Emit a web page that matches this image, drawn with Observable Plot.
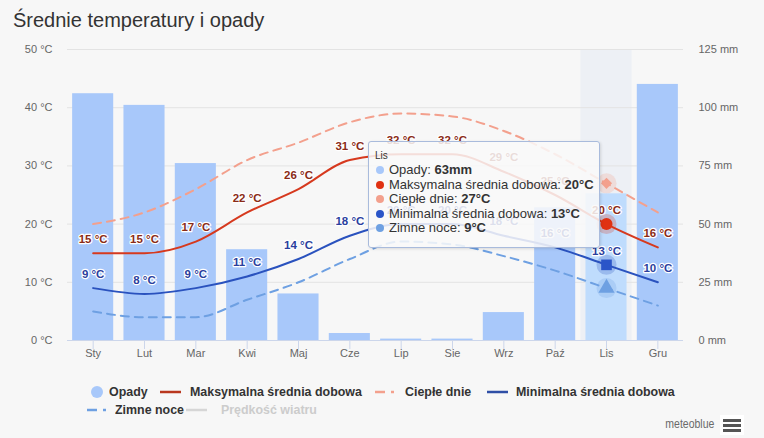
<!DOCTYPE html>
<html><head><meta charset="utf-8">
<script src="https://cdn.jsdelivr.net/npm/d3@7"></script>
<script src="https://cdn.jsdelivr.net/npm/@observablehq/plot@0.6"></script>
<style>
html,body{margin:0;padding:0;}
body{background:#f7f7f7;width:764px;height:438px;overflow:hidden;position:relative;font-family:"Liberation Sans",Arial,sans-serif;}
#title{position:absolute;left:13px;top:9px;font-size:20px;color:#333;white-space:nowrap;}
#chart{position:absolute;left:0;top:40px;}
#tooltip{position:absolute;left:368px;top:141px;width:232px;height:107px;box-sizing:border-box;background:rgba(249,249,249,0.86);border:1px solid #a9bbdc;border-radius:3px;box-shadow:1px 1px 3px rgba(0,0,0,0.12);font-size:13px;color:#333;padding:8px 0 0 6px;}
#tooltip .hd{font-size:10px;margin-bottom:2px;}
#tooltip .row{height:14.6px;line-height:14.6px;white-space:nowrap;}
#tooltip .bul{display:inline-block;width:8px;height:8px;border-radius:50%;margin:0 5px 0 1px;vertical-align:0px;}
.legsym{position:absolute;}
.legtxt{position:absolute;font-family:"Liberation Sans",Arial,sans-serif;font-weight:bold;font-size:13.5px;color:#333;white-space:nowrap;line-height:16px;transform:scaleX(0.92);transform-origin:0 50%;}
#brand{position:absolute;right:50px;top:417px;font-family:"Liberation Sans",Arial,sans-serif;font-size:12.5px;color:#6a6a6a;transform:scaleX(0.84);transform-origin:100% 50%;white-space:nowrap;}
#menu{position:absolute;left:720px;top:415px;width:24px;height:20px;background:#fff;}
#menu div{position:absolute;left:3px;width:18px;height:3px;background:#555;}
</style></head>
<body>
<div id="title">Średnie temperatury i opady</div>
<div id="chart"></div>
<div id="legend"></div>
<div id="brand">meteoblue</div>
<div id="menu"><div style="top:4px"></div><div style="top:9px"></div><div style="top:14px"></div></div>
<div id="tooltip"></div>
<script>
const months = ["Sty","Lut","Mar","Kwi","Maj","Cze","Lip","Sie","Wrz","Paź","Lis","Gru"];
const precip = [106,101,76,39,20,3,0.6,0.6,12,57,63,110];
const tMax = [15,15,17,22,26,31,32,32,29,25,20,16];
const warmDays = [20,22,26,31,34,37.5,39,38.5,36,32,27,22];
const tMin = [9,8,9,11,14,18,20,20,18,16,13,10];
const coldNights = [5,4,4,7,10,14,17,16.5,14.5,12,9,6];
const tempTicks = [0,10,20,30,40,50];
const precipTicks = [0,25,50,75,100,125];
const hoverMonth = "Lis";
const seriesNames = ["Opady","Maksymalna średnia dobowa","Ciepłe dnie","Minimalna średnia dobowa","Zimne noce","Prędkość wiatru"];

const C = {bar:"#a8c8fa", barHi:"#bfdcfd", max:"#d6391e", warm:"#f3a08d", min:"#2a52be", cold:"#6ea0e2", wind:"#cfcfcf", band:"#edf0f5"};
const ratio = precipTicks[precipTicks.length-1] / tempTicks[tempTicks.length-1];

const data = months.map((m,i)=>({month:m, precip:precip[i], tMax:tMax[i], warm:warmDays[i], tMin:tMin[i], cold:coldNights[i]}));
const hi = data.filter(d=>d.month===hoverMonth);

const labelOpts = {fontSize:11.5, fontWeight:"bold", stroke:"white", strokeWidth:2.5, dy:-14, fontFamily:"Liberation Sans, Arial, sans-serif"};

const plot = Plot.plot({
  width:764, height:340,
  marginLeft:67, marginRight:81, marginTop:9, marginBottom:40,
  style:{background:"transparent", color:"#666", fontFamily:"Liberation Sans, Arial, sans-serif", fontSize:"11px"},
  x:{domain:months, paddingInner:0.2, paddingOuter:0.1, round:false, label:null},
  y:{domain:[0,50], label:null},
  marks:[
    Plot.barY(hi, {x:"month", y1:0, y2:tempTicks[tempTicks.length-1], fill:C.band, insetLeft:-5, insetRight:-5}),
    Plot.ruleY(tempTicks.slice(1), {stroke:"#e3e3e3"}),
    Plot.barY(data, {x:"month", y:d=>d.precip/ratio, fill:d=>d.month===hoverMonth?C.barHi:C.bar}),
    Plot.ruleY([0], {stroke:"#ccd6eb"}),
    Plot.axisX({tickSize:9, tickPadding:0, stroke:"#ccd6eb", fill:"#666", fontSize:11}),
    Plot.axisY({anchor:"left", ticks:tempTicks, tickSize:0, tickPadding:15, tickFormat:d=>`${d} °C`, fill:"#666", fontSize:11}),
    Plot.axisY({anchor:"right", ticks:tempTicks, tickSize:0, tickPadding:15, tickFormat:d=>`${d*ratio} mm`, fill:"#666", fontSize:11}),
    Plot.line(data, {x:"month", y:"warm", curve:"monotone-x", stroke:C.warm, strokeWidth:2, strokeDasharray:"8,6"}),
    Plot.line(data, {x:"month", y:"cold", curve:"monotone-x", stroke:C.cold, strokeWidth:2, strokeDasharray:"8,6"}),
    Plot.line(data, {x:"month", y:"tMax", curve:"monotone-x", stroke:C.max, strokeWidth:2}),
    Plot.line(data, {x:"month", y:"tMin", curve:"monotone-x", stroke:C.min, strokeWidth:2}),
    Plot.text(data, {x:"month", y:"tMax", text:d=>`${d.tMax} °C`, fill:"#8a2b17", ...labelOpts}),
    Plot.text(data, {x:"month", y:"tMin", text:d=>`${d.tMin} °C`, fill:"#2b3f9e", ...labelOpts}),
    Plot.dot(hi, {x:"month", y:"warm", r:10, fill:C.warm, fillOpacity:0.25}),
    Plot.dot(hi, {x:"month", y:"tMax", r:10, fill:C.max, fillOpacity:0.25}),
    Plot.dot(hi, {x:"month", y:"tMin", r:10, fill:C.min, fillOpacity:0.25}),
    Plot.dot(hi, {x:"month", y:"cold", r:10, fill:C.cold, fillOpacity:0.25}),
    Plot.dot(hi, {x:"month", y:"warm", r:5, symbol:"diamond2", fill:C.warm}),
    Plot.dot(hi, {x:"month", y:"tMax", r:6, symbol:"circle", fill:"#e03112"}),
    Plot.dot(hi, {x:"month", y:"tMin", r:6, symbol:"square", fill:"#2a55c8"}),
    Plot.dot(hi, {x:"month", y:"cold", r:6, symbol:"triangle", fill:C.cold})
  ]
});
document.getElementById("chart").appendChild(plot);

// tooltip
const h = hi[0];
const tipRows = [
  [C.bar, seriesNames[0], `${h.precip}mm`],
  ["#e03112", seriesNames[1], `${h.tMax}°C`],
  [C.warm, seriesNames[2], `${h.warm}°C`],
  ["#2a55c8", seriesNames[3], `${h.tMin}°C`],
  [C.cold, seriesNames[4], `${h.cold}°C`]
];
document.getElementById("tooltip").innerHTML = `<div class="hd">${hoverMonth}</div>` +
  tipRows.map(([c,n,v])=>`<div class="row"><span class="bul" style="background:${c}"></span>${n}: <b>${v}</b></div>`).join("");

// legend
const legSym = [
  {type:"dot", color:C.bar},
  {type:"line", color:"#b9381f"},
  {type:"dash", color:C.warm},
  {type:"line", color:"#2f4fa6"},
  {type:"dash", color:C.cold},
  {type:"line", color:"#d6d6d6", faded:true}
];
// [symbol left, text left, top]
const legPos = [[91,109,384],[160,190,384],[375,405,384],[487,516,384],[87,115,402],[186,221,402]];
const legend = document.getElementById("legend");
seriesNames.forEach((n,i)=>{
  const s = legSym[i];
  const [sx, tx, ty] = legPos[i];
  let sym;
  if (s.type==="dot") sym = `<circle cx="6" cy="8" r="6" fill="${s.color}"/>`;
  else if (s.type==="line") sym = `<line x1="0" x2="21" y1="8" y2="8" stroke="${s.color}" stroke-width="2.5"/>`;
  else sym = `<line x1="0" x2="10" y1="8" y2="8" stroke="${s.color}" stroke-width="2.5"/><line x1="16" x2="19" y1="8" y2="8" stroke="${s.color}" stroke-width="2.5"/>`;
  const w = s.type==="dot" ? 12 : 22;
  const symEl = document.createElement("div");
  symEl.className = "legsym";
  symEl.style.left = sx+"px"; symEl.style.top = ty+"px";
  symEl.innerHTML = `<svg width="${w}" height="16" style="display:block">${sym}</svg>`;
  legend.appendChild(symEl);
  const txt = document.createElement("div");
  txt.className = "legtxt";
  txt.style.left = tx+"px"; txt.style.top = ty+"px";
  if (s.faded) txt.style.color = "#cccccc";
  txt.textContent = n;
  legend.appendChild(txt);
});
</script>
</body></html>
